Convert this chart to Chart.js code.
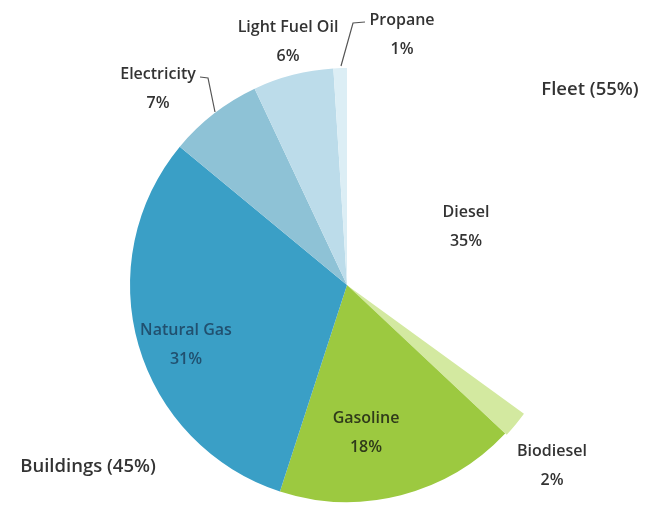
<!DOCTYPE html>
<html>
<head>
<meta charset="utf-8">
<script src="https://cdn.jsdelivr.net/npm/chart.js@4.4.1/dist/chart.umd.min.js"></script>
<style>
  html, body { margin: 0; padding: 0; background: #ffffff; }
  #wrap { width: 657px; height: 506px; position: relative; }
</style>
</head>
<body>
<div id="wrap"><canvas id="c" width="657" height="506"></canvas></div>
<script>
// Energy use by source, percent of total
const fuels = ['Diesel', 'Biodiesel', 'Gasoline', 'Natural Gas', 'Electricity', 'Light Fuel Oil', 'Propane'];
const shares = [35, 2, 18, 31, 7, 6, 1];
const groups = ['Fleet', 'Buildings'];
const groupShares = [55, 45];

const sliceColors = ['#ffffff', '#d3e9a0', '#9cc940', '#3a9fc6', '#8ec2d6', '#bcdcea', '#dceef5'];
const sliceOffsets = [0, 4, 0, 0, 0, 0, 0];

const FONT = '"Open Sans", "DejaVu Sans", sans-serif';

// Label anchors (canvas pixels) for each slice name / value pair
const labelSpots = {
  'Diesel':         { x: 466, y: 212, color: '#333333' },
  'Biodiesel':      { x: 552, y: 451, color: '#333333' },
  'Gasoline':       { x: 366, y: 418, color: '#2f3a1a' },
  'Natural Gas':    { x: 186, y: 330, color: '#21506f' },
  'Electricity':    { x: 158, y: 74,  color: '#333333' },
  'Light Fuel Oil': { x: 288, y: 27,  color: '#333333' },
  'Propane':        { x: 402, y: 20,  color: '#333333' }
};
const groupSpots = [
  { x: 590, y: 90 },
  { x: 88,  y: 467 }
];

const sliceLabels = {
  id: 'sliceLabels',
  afterDatasetsDraw(chart) {
    const ctx = chart.ctx;
    ctx.save();
    ctx.textAlign = 'center';
    ctx.textBaseline = 'middle';

    // leader lines
    ctx.strokeStyle = '#555555';
    ctx.lineWidth = 1.2;
    ctx.beginPath();
    ctx.moveTo(200, 77); ctx.lineTo(208, 78); ctx.lineTo(215, 112);
    ctx.moveTo(365, 22); ctx.lineTo(353, 23); ctx.lineTo(341, 66);
    ctx.stroke();

    ctx.font = '600 16px ' + FONT;
    fuels.forEach((name, i) => {
      const s = labelSpots[name];
      ctx.fillStyle = s.color;
      ctx.fillText(name, s.x, s.y);
      ctx.fillText(shares[i] + '%', s.x, s.y + 29);
    });

    ctx.font = '600 18.5px ' + FONT;
    ctx.fillStyle = '#333333';
    groups.forEach((g, i) => {
      ctx.fillText(g + ' (' + groupShares[i] + '%)', groupSpots[i].x, groupSpots[i].y);
    });
    ctx.restore();
  }
};

new Chart(document.getElementById('c'), {
  type: 'pie',
  data: {
    labels: fuels,
    datasets: [{
      data: shares,
      backgroundColor: sliceColors,
      borderWidth: 0,
      offset: sliceOffsets
    }]
  },
  options: {
    responsive: false,
    animation: false,
    layout: { padding: { left: 128, right: 91, top: 66, bottom: 2 } },
    plugins: {
      legend: { display: false },
      tooltip: { enabled: false }
    }
  },
  plugins: [sliceLabels]
});
</script>
</body>
</html>
